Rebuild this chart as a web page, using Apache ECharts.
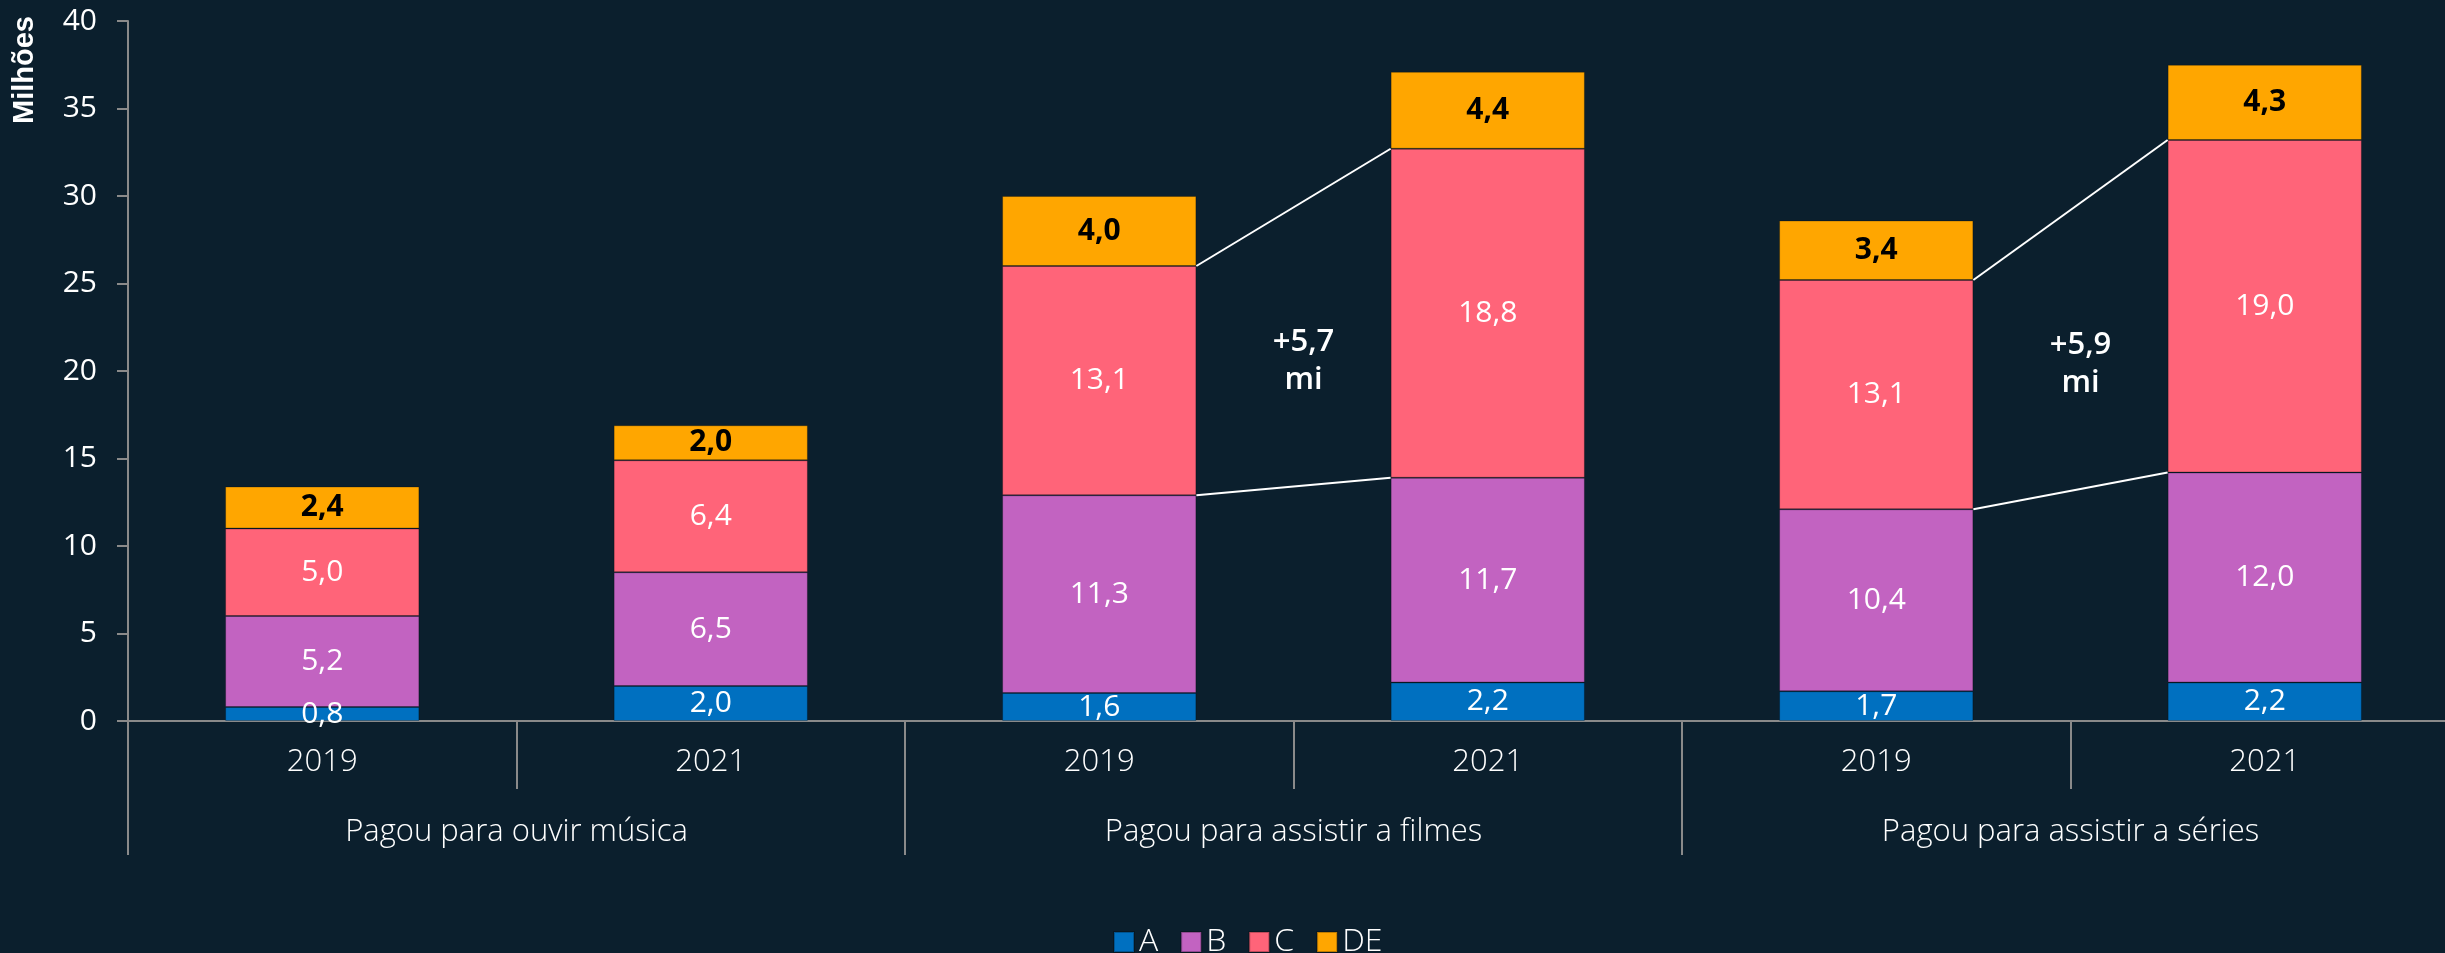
<!DOCTYPE html>
<html>
<head>
<meta charset="utf-8">
<script src="https://cdn.jsdelivr.net/npm/echarts@6/dist/echarts.min.js"></script>
<style>
html,body{margin:0;padding:0;background:#0b1f2d;overflow:hidden;}
#chart{width:2470px;height:953px;}
</style>
</head>
<body>
<div id="chart"></div>
<script>
// ---- data ----
const years = ['2019', '2021', '2019', '2021', '2019', '2021'];
const groups = ['Pagou para ouvir música', 'Pagou para assistir a filmes', 'Pagou para assistir a séries'];
const seriesNames = ['A', 'B', 'C', 'DE'];
const valA  = [0.8, 2.0, 1.6, 2.2, 1.7, 2.2];
const valB  = [5.2, 6.5, 11.3, 11.7, 10.4, 12.0];
const valC  = [5.0, 6.4, 13.1, 18.8, 13.1, 19.0];
const valDE = [2.4, 2.0, 4.0, 4.4, 3.4, 4.3];
const yTicks = { min: 0, max: 40, interval: 5 };
const yName = 'Milhões';
// pairs of bars (2019 -> 2021) that get connector lines and growth note
const connectorPairs = [[2, 3], [4, 5]];

const colors = ['#0070c0', '#c263c1', '#ff6479', '#ffa600'];
const FONT = '"Open Sans", "Noto Sans", sans-serif';
const fmt = v => v.toFixed(1).replace('.', ',');

const chart = echarts.init(document.getElementById('chart'), null, { renderer: 'canvas' });

const values = [valA, valB, valC, valDE];
const barSeries = values.map((arr, i) => ({
  name: seriesNames[i],
  type: 'bar',
  stack: 'total',
  barWidth: '50%',
  xAxisIndex: 0,
  yAxisIndex: 0,
  data: arr,
  itemStyle: { color: colors[i], borderColor: 'rgba(0,0,0,0.25)', borderWidth: 1 },
  label: {
    show: true,
    position: 'inside',
    formatter: p => fmt(p.value),
    color: i === 3 ? '#000000' : '#ffffff',
    fontWeight: i === 3 ? 'bold' : 'normal',
    fontSize: 30,
    fontFamily: FONT
  },
  emphasis: { disabled: true }
}));

// connector data built from the arrays
const connData = connectorPairs.map(([a, b]) => [
  a, b,
  valA[a] + valB[a] + valC[a], valA[b] + valB[b] + valC[b],
  valA[a] + valB[a], valA[b] + valB[b],
  valC[b] - valC[a]
]);

const connSeries = {
  type: 'custom',
  xAxisIndex: 0,
  yAxisIndex: 0,
  silent: true,
  z: 5,
  encode: { x: [0, 1], y: [2, 3, 4, 5] },
  data: connData,
  renderItem: function (params, api) {
    const i0 = api.value(0), i1 = api.value(1);
    const band = api.size([1, 0])[0];
    const half = band * 0.25;
    const t0 = api.coord([i0, api.value(2)]);
    const t1 = api.coord([i1, api.value(3)]);
    const b0 = api.coord([i0, api.value(4)]);
    const b1 = api.coord([i1, api.value(5)]);
    const lineStyle = { stroke: '#ffffff', lineWidth: 2 };
    const xm = (t0[0] + t1[0]) / 2 + 10;
    const ym = ((t0[1] + t1[1]) / 2 + (b0[1] + b1[1]) / 2) / 2 + 14;
    return {
      type: 'group',
      children: [
        { type: 'line', shape: { x1: t0[0] + half, y1: t0[1], x2: t1[0] - half, y2: t1[1] }, style: lineStyle },
        { type: 'line', shape: { x1: b0[0] + half, y1: b0[1], x2: b1[0] - half, y2: b1[1] }, style: lineStyle },
        { type: 'text', x: xm, y: ym, style: {
            text: '+' + fmt(api.value(6)) + '\nmi',
            fill: '#ffffff', font: '600 31px ' + FONT, lineHeight: 38,
            align: 'center', verticalAlign: 'middle'
        } }
      ]
    };
  }
};

const axisGray = '#8a8a8a';

chart.setOption({
  backgroundColor: '#0b1f2d',
  animation: false,
  textStyle: { fontFamily: FONT },
  grid: { left: 128, top: 21, width: 2331, height: 700, containLabel: false },
  legend: {
    data: seriesNames,
    left: 1113,
    top: 926,
    padding: 0,
    icon: 'rect',
    itemWidth: 20,
    itemHeight: 20,
    itemGap: 22,
    textStyle: { color: '#ffffff', fontSize: 32, fontFamily: FONT, fontWeight: 300 }
  },
  xAxis: [
    {
      type: 'category',
      data: years,
      position: 'bottom',
      axisLine: { show: true, lineStyle: { color: axisGray, width: 2 } },
      axisTick: { show: true, interval: 0, length: 68, lineStyle: { color: axisGray, width: 2 } },
      axisLabel: { color: '#ffffff', fontSize: 31, fontFamily: FONT, fontWeight: 300, margin: 26, interval: 0 }
    },
    {
      type: 'category',
      data: groups,
      position: 'bottom',
      axisLine: { show: false },
      axisTick: { show: true, interval: 0, length: 134, lineStyle: { color: axisGray, width: 2 } },
      axisLabel: { color: '#ffffff', fontSize: 31, fontFamily: FONT, fontWeight: 300, margin: 96, interval: 0 }
    }
  ],
  yAxis: {
    type: 'value',
    min: yTicks.min,
    max: yTicks.max,
    interval: yTicks.interval,
    axisLine: { show: true, lineStyle: { color: axisGray, width: 2 } },
    axisTick: { show: true, length: 11, lineStyle: { color: axisGray, width: 2 } },
    splitLine: { show: false },
    axisLabel: { color: '#ffffff', fontSize: 30, fontFamily: FONT, margin: 31 }
  },
  graphic: [
    {
      type: 'text',
      x: 25, y: 70,
      rotation: Math.PI / 2,
      style: {
        text: yName,
        fill: '#ffffff',
        font: 'bold 29px "Liberation Sans", Arial, sans-serif',
        align: 'center',
        verticalAlign: 'middle'
      }
    }
  ],
  series: [...barSeries, connSeries]
});
</script>
</body>
</html>
